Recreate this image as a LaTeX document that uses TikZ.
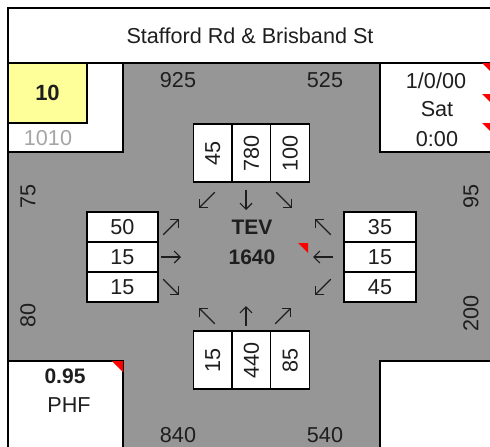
\documentclass[tikz,border=0pt]{standalone}
\usepackage{fontspec}
\setmainfont{Liberation Sans}
\usetikzlibrary{arrows.meta}
\usetikzlibrary{positioning}
\definecolor{roadgray}{RGB}{150,150,150}
\definecolor{idyellow}{RGB}{255,255,153}
\definecolor{notegray}{RGB}{165,165,165}
\definecolor{ink}{RGB}{30,30,30}
\tikzset{
  frame/.style={line width=1.6pt, line cap=rect},
  cell/.style={draw, fill=white, line width=1.2pt, minimum width=71, minimum height=30, inner sep=0pt},
  vcell/.style={cell, rotate=90, minimum width=58, minimum height=38.7},
  txt/.style={inner sep=0pt},
  btxt/.style={inner sep=0pt, font=\fontsize{21}{24}\selectfont\bfseries},
  mov/.style={line width=1.2pt, ink, -{Straight Barb[length=6pt,width=12pt]}},
  note/.style={fill=red, draw=none}
}

\begin{document}
\begin{tikzpicture}[x=1pt, y=-1pt, font=\fontsize{21.6}{25}\selectfont, text=ink]
  \useasboundingbox (0,0) rectangle (490,447);
  \clip (0,0) rectangle (490,447);

  % road and corners
  \fill[roadgray] (8,63) rectangle (490,447);
  \fill[white] (8,63) rectangle (123,152) (380,63) rectangle (490,152)
    (8,361) rectangle (123,447) (380,361) rectangle (490,447);
  \draw[frame] (123,63) -- (123,152) -- (8,152);
  \draw[frame] (380,63) -- (380,152) -- (492,152);
  \draw[frame] (8,361) -- (123,361) -- (123,449);
  \draw[frame] (492,361) -- (380,361) -- (380,449);
  \draw[frame] (8,449) -- (8,8) -- (492,8);
  \draw[frame] (8,63) -- (492,63);

  \node[txt] (title) at (250,36) {Stafford Rd \& Brisband St};

  % corner boxes
  \node[draw, frame, fill=idyellow, minimum width=79, minimum height=60, inner sep=0pt,
    font=\fontsize{22}{25}\selectfont\bfseries] (id) at (47.5,93) {10};
  \node[txt, text=notegray] (idsub) at (48,138) {1010};
  \node[txt] (date) at (436,81) {1/0/00};
  \node[txt] (day) at (437,109) {Sat};
  \node[txt] (time) at (437,139) {0:00};
  \node[btxt] (phf) at (65,376) {0.95};
  \node[txt] (phflbl) at (69,405) {PHF};

  % approach totals
  \node[txt] (nin) at (178,80) {925};
  \node[txt] (nout) at (325,80) {525};
  \node[txt] (sout) at (178,435) {840};
  \node[txt] (sin) at (325,435) {540};
  \node[txt, rotate=90] (win) at (28,196) {75};
  \node[txt, rotate=90] (wout) at (28,315) {80};
  \node[txt, rotate=90] (eout) at (471,196) {95};
  \node[txt, rotate=90] (ein) at (471,313) {200};

  \node[btxt] (tev) at (252,227) {TEV};
  \node[btxt] (tevval) at (252,257) {1640};

  % turning movements
  \foreach \v [count=\i] in {45,780,100}{
    \node[vcell] (n\i) at (174+\i*38.7,153) {\v};
  }
  \foreach \v [count=\i] in {15,440,85}{
    \node[vcell] (s\i) at (174+\i*38.7,360) {\v};
  }
  \foreach \v [count=\i] in {50,15,15}{
    \node[cell] (w\i) at (122.5,197+\i*30) {\v};
  }
  \foreach \v [count=\i] in {35,15,45}{
    \node[cell, minimum width=72] (e\i) at (380,197+\i*30) {\v};
  }

  \foreach \x/\a/\l [count=\i] in {207/225/11,246/270/10,284/315/11}{
    \coordinate (na\i) at (\x,200);
    \draw[mov] (na\i) ++(-\a:-\l) -- ++(-\a:2*\l);
  }
  \foreach \x/\a/\l [count=\i] in {207/135/11,246/90/10,283/45/11}{
    \coordinate (sa\i) at (\x,316);
    \draw[mov] (sa\i) ++(-\a:-\l) -- ++(-\a:2*\l);
  }
  \foreach \a/\l [count=\i] in {45/11,0/10,315/11}{
    \coordinate (wa\i) at (171,197+\i*30);
    \draw[mov] (wa\i) ++(-\a:-\l) -- ++(-\a:2*\l);
  }
  \foreach \a/\l [count=\i] in {135/11,180/10,225/11}{
    \coordinate (ea\i) at (323,197+\i*30);
    \draw[mov] (ea\i) ++(-\a:-\l) -- ++(-\a:2*\l);
  }

  % comment marks
  \fill[note] (298,243) -- (308,243) -- (308,253) -- cycle;
  \fill[note] (112,361) -- (123,361) -- (123,372) -- cycle;
  \foreach \y in {63,94,123}{
    \fill[note] (482,\y) -- (491,\y) -- (491,\y+9) -- cycle;
  }
\end{tikzpicture}
\end{document}
